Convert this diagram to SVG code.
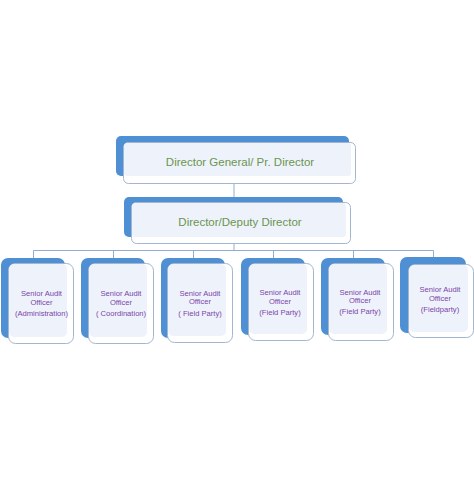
<svg xmlns="http://www.w3.org/2000/svg" width="474" height="479" viewBox="0 0 474 479">
<style>
.back{fill:#4f8fd3}
.front{fill:#ffffff;stroke:#a3b6d0;stroke-width:1}
.inner{fill:#eef3fb}
.conn{fill:none;stroke:#93aecd;stroke-width:1}
.big{font-family:"Liberation Sans",Arial,sans-serif;font-size:11.5px;fill:#6c9450;text-anchor:middle}
.small{font-family:"Liberation Sans",Arial,sans-serif;font-size:7.6px;fill:#7d43aa;text-anchor:middle}
</style>
<rect width="474" height="479" fill="#ffffff"/>
<g id="connectors">
<path class="conn" d="M234 184V202"/>
<path class="conn" d="M234 244V250.5"/>
<path class="conn" d="M33.5 250.5H433.5"/>
<path class="conn" d="M33.5 250.5V258M113.5 250.5V258M193.5 250.5V258M273.5 250.5V258M353.5 250.5V258M433.5 250.5V257"/>
</g>
<g id="n-dg">
<rect class="back" x="116" y="136" width="233" height="40" rx="5"/>
<rect class="front" x="123.5" y="142.5" width="232" height="41" rx="5"/>
<rect class="inner" x="124" y="143" width="227" height="33" rx="3"/>
<text class="big" x="240" y="166">Director General/ Pr. Director</text>
</g>
<g id="n-dd">
<rect class="back" x="124" y="197" width="219" height="40" rx="5"/>
<rect class="front" x="131.5" y="202.5" width="219" height="41" rx="5"/>
<rect class="inner" x="132" y="203" width="214" height="34" rx="3"/>
<text class="big" x="240" y="226">Director/Deputy Director</text>
</g>
<g id="n-sao1">
<rect class="back" x="1" y="258" width="64" height="80" rx="7"/>
<rect class="front" x="8.5" y="263.5" width="65" height="80" rx="7"/>
<rect class="inner" x="9" y="264" width="58" height="73" rx="5"/>
<text class="small" x="41.5" y="295.5">Senior Audit</text>
<text class="small" x="41.5" y="304.5">Officer</text>
<text class="small" x="41.5" y="316">(Administration)</text>
</g>
<g id="n-sao2">
<rect class="back" x="81" y="258" width="64" height="80" rx="7"/>
<rect class="front" x="88.5" y="263.5" width="65" height="80" rx="7"/>
<rect class="inner" x="89" y="264" width="58" height="73" rx="5"/>
<text class="small" x="121" y="295.5">Senior Audit</text>
<text class="small" x="121" y="304.5">Officer</text>
<text class="small" x="121" y="316">( Coordination)</text>
</g>
<g id="n-sao3">
<rect class="back" x="161" y="258" width="64" height="80" rx="7"/>
<rect class="front" x="167.5" y="263.5" width="65" height="79" rx="7"/>
<rect class="inner" x="168" y="264" width="58" height="72" rx="5"/>
<text class="small" x="200" y="295.5">Senior Audit</text>
<text class="small" x="200" y="304">Officer</text>
<text class="small" x="200" y="315.5">( Field Party)</text>
</g>
<g id="n-sao4">
<rect class="back" x="241" y="258" width="64" height="77" rx="7"/>
<rect class="front" x="248.5" y="263.5" width="65" height="77" rx="7"/>
<rect class="inner" x="249" y="264" width="58" height="70" rx="5"/>
<text class="small" x="280" y="294.5">Senior Audit</text>
<text class="small" x="280" y="303.5">Officer</text>
<text class="small" x="280" y="314.5">(Field Party)</text>
</g>
<g id="n-sao5">
<rect class="back" x="321" y="258" width="64" height="77" rx="7"/>
<rect class="front" x="328.5" y="263.5" width="65" height="77" rx="7"/>
<rect class="inner" x="329" y="264" width="58" height="70" rx="5"/>
<text class="small" x="360" y="294.5">Senior Audit</text>
<text class="small" x="360" y="303">Officer</text>
<text class="small" x="360" y="314">(Field Party)</text>
</g>
<g id="n-sao6">
<rect class="back" x="400" y="257" width="66" height="76" rx="7"/>
<rect class="front" x="408.5" y="264.5" width="65" height="73" rx="7"/>
<rect class="inner" x="409" y="265" width="59" height="67" rx="5"/>
<text class="small" x="440" y="291.5">Senior Audit</text>
<text class="small" x="440" y="300.5">Officer</text>
<text class="small" x="440" y="311.5">(Fieldparty)</text>
</g>
</svg>
